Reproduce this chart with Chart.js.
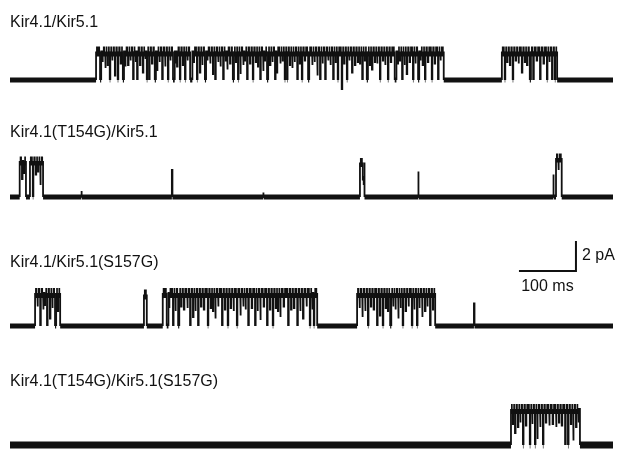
<!DOCTYPE html>
<html>
<head>
<meta charset="utf-8">
<script src="https://cdn.jsdelivr.net/npm/chart.js@4.4.0/dist/chart.umd.min.js"></script>
<style>
  html, body { margin: 0; padding: 0; background: #fff; overflow: hidden; }
  #wrap { position: relative; width: 623px; height: 449px; overflow: hidden; }
  canvas { position: absolute; left: 0; }
</style>
</head>
<body>
<div id="wrap"></div>
<script>
// recording length (ms)
const durationMs = 1058;

const traceLabels = [
  'Kir4.1/Kir5.1',
  'Kir4.1(T154G)/Kir5.1',
  'Kir4.1/Kir5.1(S157G)',
  'Kir4.1(T154G)/Kir5.1(S157G)'
];

// openings: [start ms, end ms, current pA]
// closures inside an opening: [time ms, current pA, duration ms]
// flickers: short partial closures inside an opening, same format
const wtOpenings = [[151, 761, 1.9], [863, 960, 1.9]];
const wtClosures = [
  [158, 0, 2], [167, 0.8, 1], [175, 0, 1], [184, 0.3, 1], [189, 0, 1], [198, 0, 2],
  [207, 1.0, 1], [216, 0, 1], [223, 0, 1], [233, 0.5, 1], [240, 0, 1], [244, 0, 1],
  [254, 0, 2], [258, 0.6, 1], [267, 0, 1], [277, 0, 1], [286, 0, 3], [293, 0.9, 1],
  [298, 0, 1], [307, 0, 1], [316, 0, 4], [328, 0, 1], [333, 0.5, 1], [342, 0, 2],
  [356, 0.4, 1], [360, 0, 1], [374, 0, 1], [381, 0.7, 1], [391, 0, 2], [400, 0, 1],
  [404, 0.4, 1], [416, 0, 1], [426, 0, 1], [439, 0, 1], [444, 0.6, 1], [451, 0, 2],
  [465, 0, 1], [468, 0.5, 1], [482, 0, 1], [486, 0, 1], [495, 0.8, 1], [504, 0, 1],
  [512, 0, 1], [523, 0, 2], [539, 0.3, 1], [544, 0, 1], [553, 0, 1], [567, 0, 1],
  [575, 0, 1], [582, -0.6, 1], [591, 0, 1], [600, 0.5, 1], [618, 0, 1], [626, 0, 2],
  [635, 0.7, 1], [649, 0, 1], [663, 0, 1], [675, 0, 3], [688, 0, 1], [696, 0.4, 1],
  [707, 0, 1], [716, 0, 2], [728, 0, 1], [740, 0, 1], [751, 0, 1],
  [868, 0, 1], [882, 0, 1], [898, 0.5, 1], [912, 0, 2], [918, 0, 1], [930, 0, 1],
  [942, 0, 1], [951, 0, 1], [956, 0, 1]
];
const wtFlickers = [
  [162, 1.2, 1], [171, 1.0, 1], [179, 1.3, 1], [194, 1.1, 1], [202, 0.9, 1], [211, 1.3, 1],
  [220, 1.2, 1], [228, 1.0, 1], [237, 1.4, 1], [249, 1.1, 1], [262, 1.2, 1], [272, 0.9, 1],
  [281, 1.3, 1], [290, 1.1, 1], [303, 1.0, 1], [311, 1.3, 1], [322, 1.2, 1], [337, 1.0, 1],
  [346, 1.3, 1], [351, 1.1, 1], [365, 1.2, 1], [369, 0.9, 1], [378, 1.3, 1], [386, 1.1, 1],
  [396, 1.2, 1], [409, 1.0, 1], [412, 1.3, 1], [421, 1.1, 1], [431, 1.2, 1], [435, 0.9, 1],
  [447, 1.3, 1], [456, 1.0, 1], [460, 1.2, 1], [474, 1.1, 1], [478, 1.3, 1], [491, 1.0, 1],
  [499, 1.2, 1], [508, 1.1, 1], [517, 1.3, 1], [530, 1.0, 1], [534, 1.2, 1], [548, 1.1, 1],
  [558, 1.3, 1], [562, 1.0, 1], [571, 1.2, 1], [586, 1.1, 1], [595, 1.3, 1], [605, 1.0, 1],
  [610, 1.2, 1], [614, 1.1, 1], [622, 1.3, 1], [631, 1.0, 1], [640, 1.2, 1], [644, 1.1, 1],
  [654, 1.3, 1], [658, 1.0, 1], [668, 1.2, 1], [680, 1.1, 1], [684, 1.3, 1], [692, 1.0, 1],
  [701, 1.2, 1], [711, 1.1, 1], [720, 1.3, 1], [724, 1.0, 1], [733, 1.2, 1], [745, 1.1, 1],
  [755, 1.3, 1],
  [872, 1.2, 1], [877, 1.0, 1], [887, 1.3, 1], [892, 1.1, 1], [903, 1.2, 1], [907, 1.0, 1],
  [924, 1.3, 1], [936, 1.1, 1], [946, 1.2, 1]
];

const t154gOpenings = [
  [17, 28, 2.4], [35, 58, 2.4], [125, 126, 0.4], [284, 285, 1.8], [444, 445, 0.3],
  [614, 622, 2.3], [716, 717, 1.7], [953, 954, 1.5], [958, 968, 2.6]
];
const t154gClosures = [[21, 1.2, 1], [40, 0, 1], [53, 0.8, 1], [619, 1.1, 3]];
const t154gFlickers = [[24, 1.6, 1], [45, 1.5, 1], [49, 1.7, 1], [962, 1.8, 1]];

const s157gOpenings = [
  [44, 88, 2.2], [235, 240, 2.1], [268, 539, 2.2], [609, 746, 2.2], [814, 815, 1.5]
];
const s157gClosures = [
  [53, 0, 1], [65, 0, 1], [70, 0.5, 1], [79, 0, 2],
  [275, 0, 3], [286, 0, 1], [295, 0, 2], [316, 0, 1], [321, 0.6, 1], [330, 0, 1],
  [347, 0, 1], [360, 0.5, 1], [372, 0, 1], [382, 0, 1], [398, 0, 1], [404, 0.7, 1],
  [418, 0, 1], [430, 0, 1], [439, 0.4, 1], [451, 0, 1], [461, 0, 1], [474, 0.6, 1],
  [488, 0, 1], [504, 0, 1], [514, 0.5, 1], [526, 0, 1], [533, 0, 1],
  [618, 0.6, 1], [628, 0, 1], [644, 0, 1], [649, 0.7, 1], [654, 0, 1], [667, 0, 2],
  [681, 0.5, 1], [689, 0, 1], [705, 0, 1], [714, 0, 1], [723, 0.6, 1], [737, 0, 1]
];
const s157gFlickers = [
  [48, 1.3, 1], [58, 1.1, 1], [61, 1.4, 1], [74, 1.2, 1], [84, 1.0, 1],
  [279, 1.2, 1], [290, 1.0, 1], [300, 1.3, 1], [305, 1.1, 1], [311, 1.2, 1], [325, 1.0, 1],
  [335, 1.3, 1], [340, 1.1, 1], [352, 1.2, 1], [356, 1.0, 1], [365, 1.3, 1], [377, 1.1, 1],
  [387, 1.2, 1], [392, 1.0, 1], [409, 1.3, 1], [413, 1.1, 1], [424, 1.2, 1], [434, 1.0, 1],
  [445, 1.3, 1], [456, 1.1, 1], [466, 1.2, 1], [470, 1.0, 1], [480, 1.3, 1], [493, 1.1, 1],
  [498, 1.2, 1], [509, 1.0, 1], [520, 1.3, 1], [530, 1.1, 1],
  [613, 1.2, 1], [623, 1.0, 1], [633, 1.3, 1], [638, 1.1, 1], [659, 1.2, 1], [663, 1.0, 1],
  [672, 1.3, 1], [676, 1.1, 1], [685, 1.2, 1], [694, 1.0, 1], [699, 1.3, 1], [709, 1.1, 1],
  [718, 1.2, 1], [728, 1.0, 1], [732, 1.3, 1], [742, 1.1, 1]
];

const doubleOpenings = [[879, 1000, 2.4]];
const doubleClosures = [
  [886, 0.8, 1], [900, 0, 1], [912, 0, 1], [921, 0, 1], [925, 0.4, 1], [935, 0, 1],
  [974, 0, 1], [979, 0, 1], [988, 0.3, 1]
];
const doubleFlickers = [
  [882, 1.4, 1], [891, 1.2, 1], [895, 1.5, 1], [905, 1.3, 1], [916, 1.4, 1], [930, 1.2, 1],
  [940, 1.5, 1], [946, 1.3, 1], [952, 1.4, 1], [958, 1.2, 1], [963, 1.5, 1], [968, 1.3, 1],
  [984, 1.4, 1], [993, 1.2, 1], [997, 1.5, 1]
];

// scale bar
const scaleBarMs = 100;
const scaleBarPA = 2;

// layout (pixels): canvas top, label baseline, trace baseline, line widths
const panels = [
  { top: 0,   label: 28,  base: 80,  baseW: 5, openW: 10 },
  { top: 110, label: 138, base: 197, baseW: 5, openW: 9 },
  { top: 228, label: 268, base: 326, baseW: 5, openW: 10 },
  { top: 359, label: 387, base: 445, baseW: 7, openW: 10 }
];
const pxPerPA = 15;
const flickerW = 1.8;

function buildTrace(openings, closures) {
  const pts = [{ x: 0, y: 0 }];
  openings.forEach(([s, e, amp]) => {
    pts.push({ x: s, y: 0 }, { x: s, y: amp });
    closures
      .filter(c => c[0] > s && c[0] < e)
      .sort((a, b) => a[0] - b[0])
      .forEach(([t, lvl, dur]) => {
        pts.push({ x: t, y: amp }, { x: t, y: lvl }, { x: t + dur, y: lvl }, { x: t + dur, y: amp });
      });
    pts.push({ x: e, y: amp }, { x: e, y: 0 });
  });
  pts.push({ x: durationMs, y: 0 });
  return pts;
}

const traces = [
  buildTrace(wtOpenings, wtClosures.concat(wtFlickers)),
  buildTrace(t154gOpenings, t154gClosures.concat(t154gFlickers)),
  buildTrace(s157gOpenings, s157gClosures.concat(s157gFlickers)),
  buildTrace(doubleOpenings, doubleClosures.concat(doubleFlickers))
];

const fontFamily = '"Liberation Sans", Arial, Helvetica, sans-serif';

const scaleBarPlugin = {
  id: 'scaleBar',
  afterDraw(chart) {
    const xs = chart.scales.x, ys = chart.scales.y, ctx = chart.ctx;
    const t0 = 893, i0 = 3.67;
    const x0 = xs.getPixelForValue(t0), x1 = xs.getPixelForValue(t0 + scaleBarMs);
    const y0 = ys.getPixelForValue(i0), y1 = ys.getPixelForValue(i0 + scaleBarPA);
    ctx.save();
    ctx.strokeStyle = '#111';
    ctx.lineWidth = 2;
    ctx.beginPath();
    ctx.moveTo(x0, y0);
    ctx.lineTo(x1, y0);
    ctx.lineTo(x1, y1);
    ctx.stroke();
    ctx.fillStyle = '#111';
    ctx.font = '16px ' + fontFamily;
    ctx.textBaseline = 'middle';
    ctx.textAlign = 'left';
    ctx.fillText(scaleBarPA + ' pA', x1 + 6, (y0 + y1) / 2);
    ctx.textAlign = 'center';
    ctx.fillText(scaleBarMs + ' ms', (x0 + x1) / 2, ys.getPixelForValue(2.6));
    ctx.restore();
  }
};

const wrap = document.getElementById('wrap');

panels.forEach((p, i) => {
  const padTop = p.label - p.top - 15;
  const padBottom = 4;
  const areaTop = p.top + padTop + 19.2 + padBottom;
  const yMax = (p.base - areaTop) / pxPerPA;
  const height = Math.round(p.base + pxPerPA - p.top);

  const canvas = document.createElement('canvas');
  canvas.width = 623;
  canvas.height = height;
  canvas.style.top = p.top + 'px';
  wrap.appendChild(canvas);

  new Chart(canvas.getContext('2d'), {
    type: 'line',
    data: {
      datasets: [{
        data: traces[i],
        borderColor: '#111',
        borderWidth: flickerW,
        pointRadius: 0,
        tension: 0,
        clip: false,
        segment: {
          borderWidth: c => {
            const a = c.p0.parsed, b = c.p1.parsed;
            if (a.y !== b.y) return flickerW;
            if (a.y === 0) return p.baseW;
            return (b.x - a.x > 2) ? p.openW : flickerW;
          }
        }
      }]
    },
    options: {
      responsive: false,
      animation: false,
      events: [],
      layout: { padding: { left: 10, right: 10, top: 0, bottom: 0 } },
      plugins: {
        legend: { display: false },
        tooltip: { enabled: false },
        title: {
          display: true,
          text: traceLabels[i],
          align: 'start',
          color: '#111',
          font: { family: fontFamily, size: 16, weight: 'normal' },
          padding: { top: padTop, bottom: padBottom }
        }
      },
      scales: {
        x: { type: 'linear', min: 0, max: durationMs, display: false },
        y: { min: -1, max: yMax, display: false }
      }
    },
    plugins: i === 2 ? [scaleBarPlugin] : []
  });
});
</script>
</body>
</html>
